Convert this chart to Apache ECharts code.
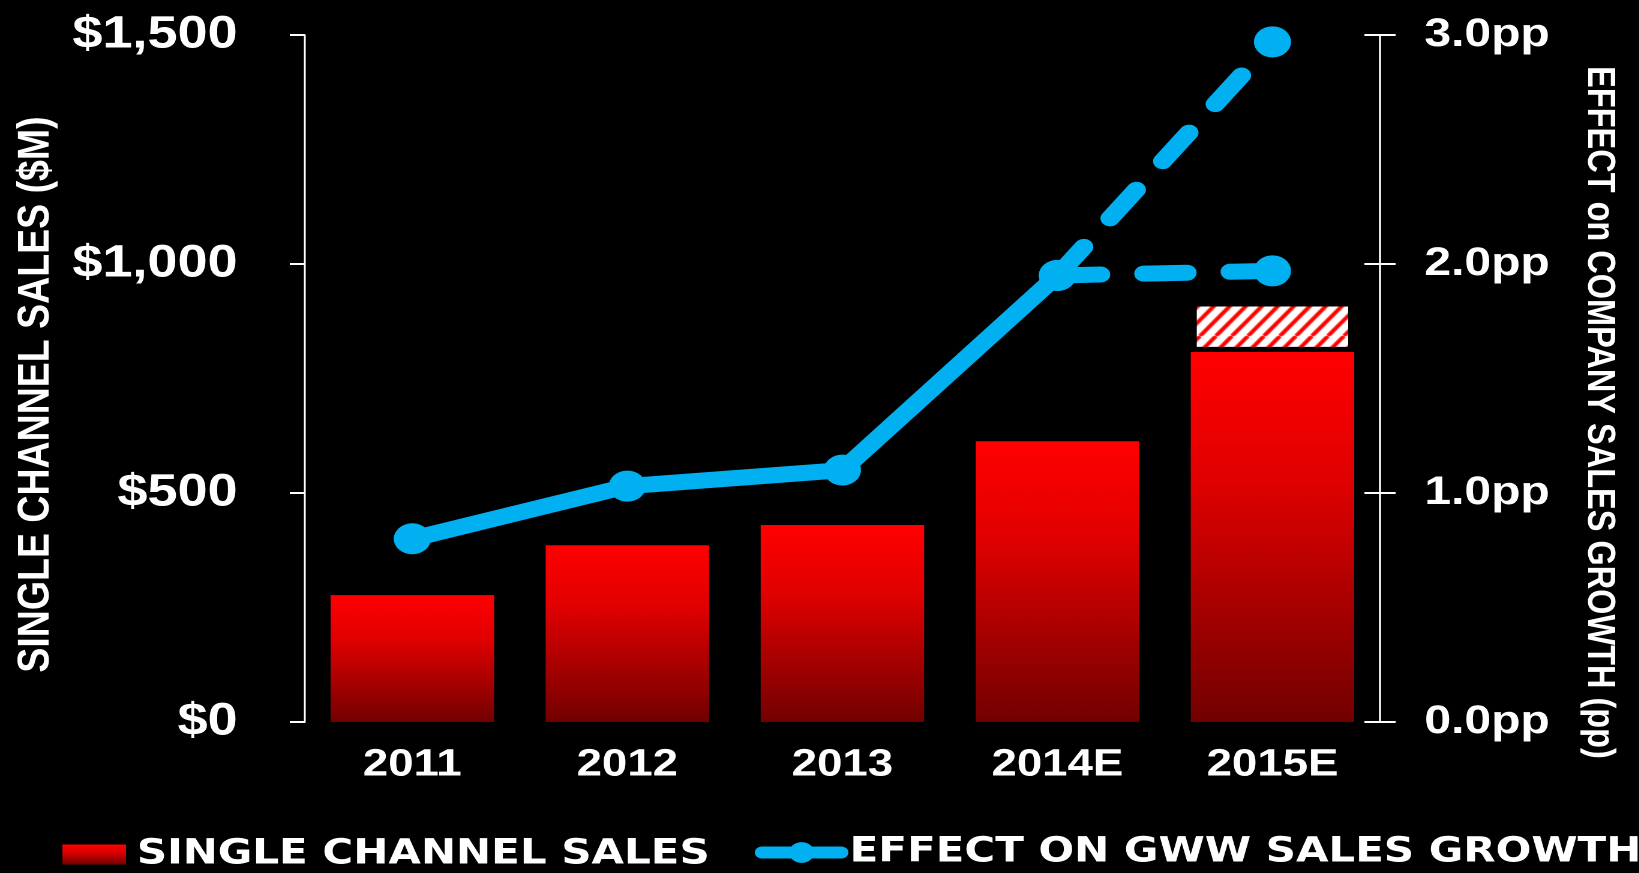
<!DOCTYPE html>
<html>
<head>
<meta charset="utf-8">
<script src="https://cdn.jsdelivr.net/npm/echarts@6/dist/echarts.min.js"></script>
<style>
  html, body { margin: 0; padding: 0; background: #000; overflow: hidden; }
  #wrap { width: 1639px; height: 873px; overflow: hidden; background: #000; }
  /* the chart is laid out in a narrower box and widened horizontally */
  #chart { width: 1366px; height: 873px; transform: scaleX(1.2); transform-origin: 0 0; }
</style>
</head>
<body>
<div id="wrap"><div id="chart"></div></div>
<script>
// Years on the category axis
const categories = ['2011', '2012', '2013', '2014E', '2015E'];
// Single channel sales, $M (solid bars)
const salesBase = [277, 386, 430, 613, 808];
// Upside range on top of the 2015 estimate, $M (hatched segment)
const salesUpside = [null, null, null, null, 110];
// Effect on company sales growth, percentage points
const growthActual = [0.80, 1.03, 1.10, 1.95, null];
const growthHigh = [null, null, null, 1.95, 2.97];
const growthLow = [null, null, null, 1.95, 1.97];
// Axis ranges
const salesTicks = [0, 500, 1000, 1500];
const growthTicks = [0, 1, 2, 3];

const BLUE = '#00B0F0';
const FONT = '"Liberation Sans", Arial, sans-serif';
const LEGEND_FONT = '"DejaVu Sans", sans-serif';

// diagonal red-on-white stripe tile for the upside segment
function stripeTile() {
  const c = document.createElement('canvas');
  c.width = 40; c.height = 48;
  const g = c.getContext('2d');
  g.fillStyle = '#ffffff';
  g.fillRect(0, 0, 40, 48);
  g.strokeStyle = '#ff0000';
  g.lineWidth = 3.6;
  for (let k = -3; k <= 3; k++) {
    const x0 = k * 40 / 3;
    g.beginPath();
    g.moveTo(x0, 48);
    g.lineTo(x0 + 40, 0);
    g.stroke();
  }
  return c;
}

const redGradient = new echarts.graphic.LinearGradient(0, 0, 0, 1, [
  { offset: 0, color: '#ff0000' },
  { offset: 0.35, color: '#e00000' },
  { offset: 1, color: '#720000' }
]);

const chart = echarts.init(document.getElementById('chart'), null, { devicePixelRatio: 2 });

const axisLabelBold = { color: '#ffffff', fontFamily: FONT, fontWeight: 'bold' };
const legendText = { color: '#ffffff', fontFamily: LEGEND_FONT, fontWeight: 'bold', fontSize: 35 };

chart.setOption({
  backgroundColor: '#000000',
  animation: false,
  grid: { left: 254, right: 216, top: 35, bottom: 151 },
  legend: [
    {
      data: [{ name: 'SINGLE CHANNEL SALES', icon: 'rect' }],
      left: 47, top: 832,
      itemWidth: 53, itemHeight: 20,
      textStyle: Object.assign({}, legendText, { padding: [0, 0, 0, 4] }),
      selectedMode: false
    },
    {
      data: ['EFFECT ON GWW SALES GROWTH'],
      left: 624, top: 830,
      itemWidth: 66, itemHeight: 26,
      lineStyle: { width: 12, cap: 'round' },
      textStyle: Object.assign({}, legendText, { padding: [0, 0, 0, 2] }),
      selectedMode: false
    }
  ],
  xAxis: {
    type: 'category',
    data: categories,
    axisLine: { show: false },
    axisTick: { show: false },
    axisLabel: Object.assign({ fontSize: 38, margin: 24 }, axisLabelBold)
  },
  yAxis: [
    {
      type: 'value',
      position: 'left',
      min: salesTicks[0], max: salesTicks[salesTicks.length - 1], interval: 500,
      name: 'SINGLE CHANNEL SALES ($M)',
      nameLocation: 'middle',
      nameGap: 205,
      nameRotate: 90,
      nameTextStyle: { color: '#ffffff', fontFamily: FONT, fontWeight: 'bold', fontSize: 37.5, padding: [0, 32, 0, 0] },
      splitLine: { show: false },
      axisLine: { show: true, lineStyle: { color: '#ffffff', width: 1.5 } },
      axisTick: { show: true, inside: false, length: 12.5, lineStyle: { color: '#ffffff', width: 2 } },
      axisLabel: Object.assign({
        fontSize: 45, margin: 56,
        formatter: v => '$' + v.toLocaleString('en-US')
      }, axisLabelBold)
    },
    {
      type: 'value',
      position: 'right',
      min: growthTicks[0], max: growthTicks[growthTicks.length - 1], interval: 1,
      name: 'EFFECT on COMPANY SALES GROWTH (pp)',
      nameLocation: 'middle',
      nameGap: 166,
      nameRotate: -90,
      nameTextStyle: { color: '#ffffff', fontFamily: FONT, fontWeight: 'bold', fontSize: 32.5, padding: [0, 0, 0, 68] },
      splitLine: { show: false },
      axisLine: { show: true, lineStyle: { color: '#ffffff', width: 1.7 } },
      axisTick: { show: true, inside: false, length: 13, lineStyle: { color: '#ffffff', width: 2 } },
      axisLabel: Object.assign({
        fontSize: 40, margin: 37,
        formatter: v => v.toFixed(1) + 'pp'
      }, axisLabelBold)
    },
    {
      // inner half of the crossing ticks on the right axis
      type: 'value',
      position: 'right',
      min: growthTicks[0], max: growthTicks[growthTicks.length - 1], interval: 1,
      splitLine: { show: false },
      axisLine: { show: false },
      axisTick: { show: true, inside: true, length: 13, lineStyle: { color: '#ffffff', width: 2 } },
      axisLabel: { show: false }
    }
  ],
  series: [
    {
      name: 'SINGLE CHANNEL SALES',
      type: 'bar',
      stack: 'sales',
      barWidth: '76%',
      data: salesBase,
      itemStyle: { color: redGradient }
    },
    {
      name: 'Upside',
      type: 'bar',
      stack: 'sales',
      data: salesUpside,
      itemStyle: {
        color: { image: stripeTile(), repeat: 'repeat' },
        borderColor: '#000000',
        borderWidth: 5
      }
    },
    {
      name: 'EFFECT ON GWW SALES GROWTH',
      type: 'line',
      yAxisIndex: 1,
      data: growthActual,
      symbol: 'circle',
      symbolSize: 31,
      lineStyle: { color: BLUE, width: 16, cap: 'round', join: 'round' },
      itemStyle: { color: BLUE, borderWidth: 0 },
      z: 5
    },
    {
      name: 'High case',
      type: 'line',
      yAxisIndex: 1,
      data: growthHigh,
      symbol: 'circle',
      symbolSize: 31,
      lineStyle: { color: BLUE, width: 16, type: [36, 36], cap: 'round' },
      itemStyle: { color: BLUE, borderWidth: 0 },
      z: 4
    },
    {
      name: 'Low case',
      type: 'line',
      yAxisIndex: 1,
      data: growthLow,
      symbol: 'circle',
      symbolSize: 31,
      lineStyle: { color: BLUE, width: 16, type: [36, 36], cap: 'round' },
      itemStyle: { color: BLUE, borderWidth: 0 },
      z: 4
    }
  ]
});
</script>
</body>
</html>
